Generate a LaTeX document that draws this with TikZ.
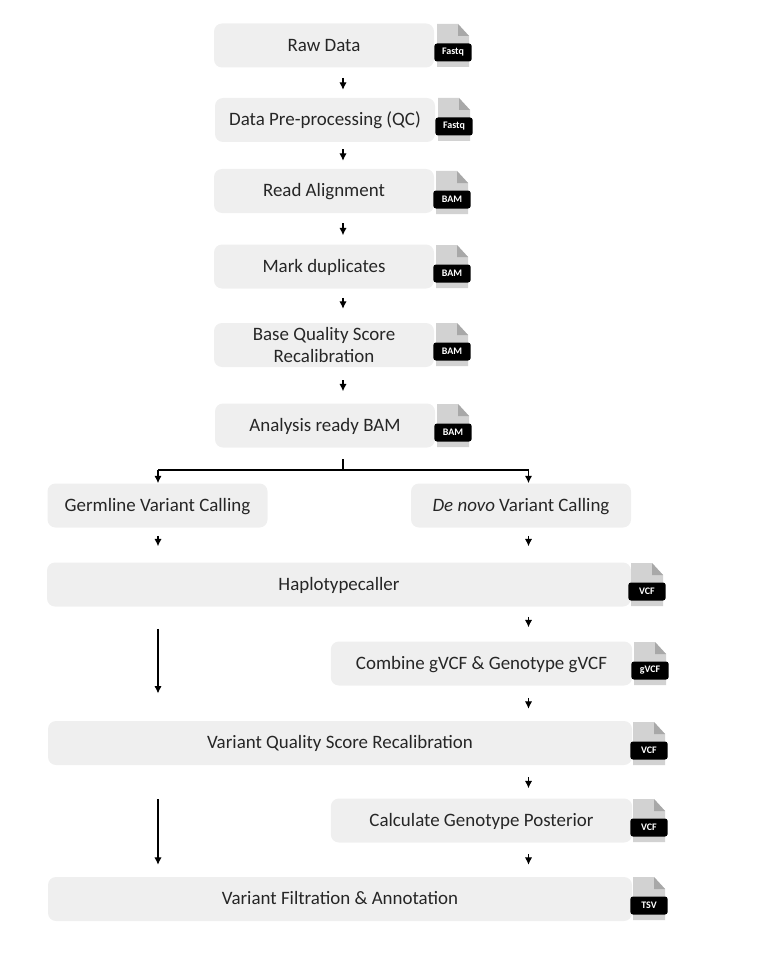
\documentclass[tikz,border=0pt]{standalone}
\usepackage{fontspec}
\setmainfont{Carlito}
\usetikzlibrary{arrows.meta,calc,positioning}
\definecolor{boxgrey}{HTML}{EFEFEF}
\definecolor{pagegrey}{HTML}{D2D2D2}
\definecolor{foldgrey}{HTML}{A8A8A8}
\definecolor{inkgrey}{HTML}{262626}
\tikzset{stepbox/.style={fill=boxgrey,rounded corners=6pt,minimum height=33pt,inner sep=0pt,align=center,text=inkgrey,text height=10pt,text depth=1.5pt,font=\fontsize{14.2}{17.2}\selectfont},shortbox/.style={stepbox,minimum width=165pt},splitbox/.style={stepbox,minimum width=226pt},widebox/.style={stepbox,minimum width=438pt},filetag/.style={fill=black,rounded corners=2pt,minimum width=28pt,minimum height=13.5pt,inner sep=0pt,text=white,font=\fontsize{7.5}{8}\bfseries\selectfont},flowarrow/.style={-{Latex[length=5.5pt,width=5.5pt]},black,line width=.85pt},splitline/.style={black,line width=1.4pt}}

\begin{document}
\begin{tikzpicture}[x=.75pt,y=-.75pt]
\useasboundingbox (0,0) rectangle (765,963);
% main column
\node[shortbox] (raw) at (324,45.5) {Raw Data};
\node[shortbox] (pre) at (325,120) {Data Pre-processing (QC)};
\node[shortbox] (align) at (324,191) {Read Alignment};
\node[shortbox] (mark) at (324,266.5) {Mark duplicates};
\node[shortbox,text height=,text depth=] (bqsr) at (324,345) {Base Quality Score\\Recalibration};
\node[shortbox] (ready) at (325,425.5) {Analysis ready BAM};
% two branches
\node[shortbox] (germ) at (157.5,505.5) {Germline Variant Calling};
\node[shortbox] (denovo) at (521,505.5) {\textit{De novo} Variant Calling};
\node[widebox] (haplo) at (339,584.5) {Haplotypecaller};
\node[splitbox] (combine) at (481.5,663.5) {Combine gVCF \& Genotype gVCF};
\node[widebox] (vqsr) at (340,743) {Variant Quality Score Recalibration};
\node[splitbox] (post) at (481.5,820.5) {Calculate Genotype Posterior};
\node[widebox] (filt) at (340,899) {Variant Filtration \& Annotation};
% file icons
\foreach \px/\py/\tagname/\tagtext in {437/24/tagraw/Fastq,438/98/tagpre/Fastq,436/171/tagalign/BAM,436/245/tagmark/BAM,436/323/tagbqsr/BAM,437/404/tagready/BAM,631/563/taghaplo/VCF,634/642/tagcombine/gVCF,633/722/tagvqsr/VCF,633/799/tagpost/VCF,633/877/tagfilt/TSV} {
\fill[pagegrey] (\px,\py)--++(21,0)--++(11,12)--++(0,31)--++(-32,0)--cycle;
\fill[foldgrey] (\px+21,\py)--++(0,12)--++(11,0)--cycle;
\node[filetag] (\tagname) at (\px+16,\py+28.5) {\tagtext};
}
% connectors
\coordinate (mainaxis) at (343,459);
\coordinate (germaxis) at (158,470);
\coordinate (novoaxis) at (528.5,470);
\foreach \a/\b/\sa/\sb in {raw/pre/7.5/6,pre/align/5.25/6,align/mark/7.5/6.75,mark/bqsr/6.75/10.5,bqsr/ready/9.75/9}
\draw[flowarrow,shorten <=\sa pt,shorten >=\sb pt] (\a.south -| mainaxis)--(\b.north -| mainaxis);
\draw[splitline] (mainaxis)--(mainaxis |- germaxis);
\draw[splitline] (germaxis)--(novoaxis);
\draw[flowarrow,line width=1.2pt] (germaxis)--(germ.north -| germaxis);
\draw[flowarrow,line width=1.2pt] (novoaxis)--(denovo.north -| novoaxis);
\draw[flowarrow,shorten <=6pt,shorten >=12pt] (germ.south -| germaxis)--(haplo.north -| germaxis);
\foreach \a/\b/\sa/\sb in {denovo/haplo/6/12,haplo/combine/7.5/10.5,combine/vqsr/9/9,vqsr/post/9/7.5,post/filt/8.25/9}
\draw[flowarrow,shorten <=\sa pt,shorten >=\sb pt] (\a.south -| novoaxis)--(\b.north -| novoaxis);
\draw[flowarrow,shorten <=16.5pt,shorten >=20.5pt] (haplo.south -| germaxis)--(vqsr.north -| germaxis);
\draw[flowarrow,shorten <=25.5pt,shorten >=9pt] (vqsr.south -| germaxis)--(filt.north -| germaxis);
\end{tikzpicture}
\end{document}
